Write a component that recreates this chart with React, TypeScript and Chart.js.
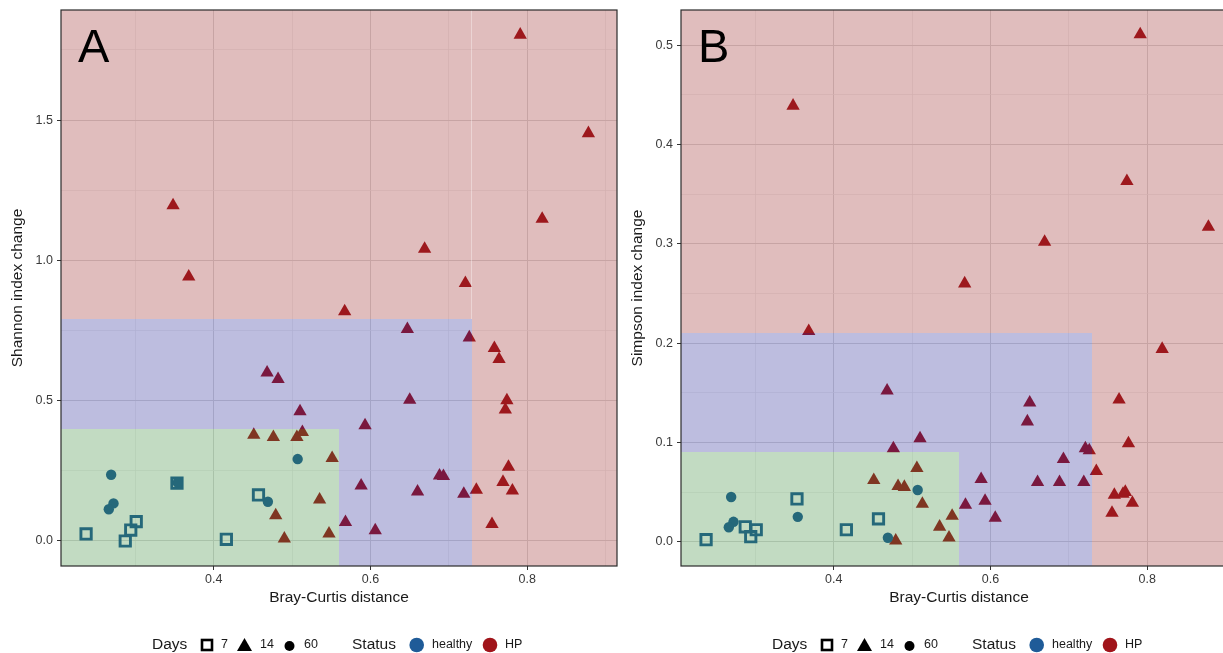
import React, { useEffect, useRef } from "react";
import { Chart, registerables } from "chart.js";

Chart.register(...registerables);

const FONT = '"Liberation Sans", Arial, Helvetica, sans-serif';

// ---------- data ----------
// Day 7 (healthy)
const day7X = [0.237, 0.287, 0.294, 0.301, 0.353, 0.416, 0.457];
const day7Shannon = [0.025, 0.0, 0.039, 0.069, 0.206, 0.006, 0.164];
const day7Simpson = [0.002, 0.015, 0.005, 0.012, 0.043, 0.012, 0.023];

// Day 60 (healthy)
const day60X = [0.269, 0.272, 0.266, 0.354, 0.469, 0.507];
const day60Shannon = [0.236, 0.134, 0.113, 0.208, 0.14, 0.292];
const day60Simpson = [0.045, 0.02, 0.0145, 0.025, 0.004, 0.052];

// Day 14 (HP)
const day14X = [
  0.348, 0.368, 0.451, 0.468, 0.476, 0.479, 0.482, 0.49, 0.506, 0.51, 0.513, 0.535, 0.547, 0.551,
  0.567, 0.568, 0.588, 0.593, 0.606, 0.647, 0.65, 0.66, 0.669, 0.688, 0.693, 0.719, 0.721, 0.726,
  0.735, 0.755, 0.758, 0.764, 0.769, 0.772, 0.774, 0.776, 0.781, 0.791, 0.819, 0.878,
];
const day14Shannon = [
  1.196, 0.942, 0.378, 0.6, 0.37, 0.091, 0.577, 0.008, 0.37, 0.462, 0.388, 0.147, 0.026, 0.295,
  0.818, 0.067, 0.197, 0.412, 0.038, 0.755, 0.503, 0.176, 1.041, 0.233, 0.231, 0.168, 0.919, 0.725,
  0.182, 0.06, 0.687, 0.648, 0.21, 0.468, 0.501, 0.264, 0.179, 1.804, 1.148, 1.453,
];
const day14Simpson = [
  0.439, 0.212, 0.062, 0.152, 0.094, 0.001, 0.056, 0.055, 0.074, 0.104, 0.038, 0.015, 0.004, 0.026,
  0.26, 0.037, 0.063, 0.041, 0.024, 0.121, 0.14, 0.06, 0.302, 0.06, 0.083, 0.06, 0.094, 0.092,
  0.071, 0.029, 0.047, 0.143, 0.048, 0.05, 0.363, 0.099, 0.039, 0.511, 0.194, 0.317,
];

// ticks
const xTicks = [0.3, 0.4, 0.5, 0.6, 0.7, 0.8, 0.9];
const xMajor = [0.4, 0.6, 0.8];
const shannonTicks = [0, 0.25, 0.5, 0.75, 1.0, 1.25, 1.5, 1.75];
const shannonMajor = [0, 0.5, 1.0, 1.5];
const simpsonTicks = [0, 0.05, 0.1, 0.15, 0.2, 0.25, 0.3, 0.35, 0.4, 0.45, 0.5];
const simpsonMajor = [0, 0.1, 0.2, 0.3, 0.4, 0.5];

// axis ranges
const xRange = [0.205, 0.9145];
const shannonRange = [-0.0891, 1.8924];
const simpsonRange = [-0.0245, 0.5355];

// region cut-offs
const xCut = [0.56, 0.73];
const shannonCut = [0.4, 0.79];
const simpsonCut = [0.09, 0.21];

// colours
const HEALTHY = "#1F5B98";
const HP = "#A0141A";
const RED_OVER = "rgba(152,35,35,0.3)";
const BLUE_OVER = "rgba(38,38,148,0.3)";
const GREEN_OVER = "rgba(52,135,52,0.3)";

const near = (arr: number[], v: number) => arr.some((a) => Math.abs(a - v) < 1e-6);

const overlayPanel = {
  id: "overlayPanel",
  afterDatasetsDraw(chart: any, _args: any, opts: any) {
    const { ctx, chartArea: a, scales } = chart;
    const x = scales.x;
    const y = scales.y;
    const px = (v: number) => Math.round(x.getPixelForValue(v));
    const py = (v: number) => Math.round(y.getPixelForValue(v));
    const xg = px(opts.xCut[0]);
    const xb = px(opts.xCut[1]);
    const yg = py(opts.yCut[0]);
    const yb = py(opts.yCut[1]);
    const L = Math.round(a.left), R = Math.round(a.right), T = Math.round(a.top), B = Math.round(a.bottom);
    ctx.save();
    ctx.beginPath();
    ctx.rect(L, T, R - L, B - T);
    ctx.clip();
    ctx.fillStyle = RED_OVER;
    ctx.fillRect(xb, T, R - xb, B - T);
    ctx.fillRect(L, T, xb - L, yb - T);
    ctx.fillStyle = BLUE_OVER;
    ctx.fillRect(xg, yb, xb - xg, B - yb);
    ctx.fillRect(L, yb, xg - L, yg - yb);
    ctx.fillStyle = GREEN_OVER;
    ctx.fillRect(L, yg, xg - L, B - yg);
    if (opts.seam) {
      ctx.fillStyle = "rgba(255,255,255,0.35)";
      ctx.fillRect(xb - 1, T, 1, yb - T);
    }
    ctx.restore();

    ctx.save();
    ctx.strokeStyle = "#2b2b2b";
    ctx.lineWidth = 1.2;
    ctx.strokeRect(L, T, R - L, B - T);

    // panel letter
    ctx.fillStyle = "#000";
    ctx.font = `47px ${FONT}`;
    ctx.textAlign = "left";
    ctx.textBaseline = "alphabetic";
    ctx.fillText(opts.letter, 78, 62);

    // legend
    const cy = 645;
    ctx.textBaseline = "middle";
    ctx.fillStyle = "#1a1a1a";
    ctx.font = `15.5px ${FONT}`;
    ctx.fillText("Days", 152, cy);
    ctx.fillText("Status", 352, cy);
    ctx.font = `12.5px ${FONT}`;
    ctx.fillText("7", 221, cy);
    ctx.fillText("14", 260, cy);
    ctx.fillText("60", 304, cy);
    ctx.fillText("healthy", 432, cy);
    ctx.fillText("HP", 505, cy);
    // square
    ctx.strokeStyle = "#000";
    ctx.lineWidth = 2.6;
    ctx.strokeRect(202, cy - 5, 10, 10);
    // triangle
    ctx.fillStyle = "#000";
    ctx.beginPath();
    ctx.moveTo(244.5, cy - 7);
    ctx.lineTo(252, cy + 6);
    ctx.lineTo(237, cy + 6);
    ctx.closePath();
    ctx.fill();
    // dot
    ctx.beginPath();
    ctx.arc(289.5, cy + 1, 5, 0, Math.PI * 2);
    ctx.fill();
    // status dots
    ctx.fillStyle = HEALTHY;
    ctx.beginPath();
    ctx.arc(416.7, cy, 7.3, 0, Math.PI * 2);
    ctx.fill();
    ctx.fillStyle = HP;
    ctx.beginPath();
    ctx.arc(490, cy, 7.3, 0, Math.PI * 2);
    ctx.fill();
    ctx.restore();
  },
};

type PanelProps = {
  left: number;
  letter: string;
  yTitle: string;
  day7Y: number[];
  day60Y: number[];
  day14Y: number[];
  yTicks: number[];
  yMajor: number[];
  yRange: number[];
  yCut: number[];
  seam: boolean;
};

function Panel(p: PanelProps) {
  const ref = useRef<HTMLCanvasElement | null>(null);
  useEffect(() => {
    if (!ref.current) return;
    const pts = (xs: number[], ys: number[]) => xs.map((x, i) => ({ x, y: ys[i] }));
    const gridFor = (major: number[]) => ({
      color: (c: any) => (c.tick && near(major, c.tick.value) ? "rgb(220,220,220)" : "rgb(236,236,236)"),
      lineWidth: (c: any) => (c.tick && near(major, c.tick.value) ? 1 : 0.7),
      tickColor: (c: any) => (c.tick && near(major, c.tick.value) ? "#333" : "rgba(0,0,0,0)"),
      tickWidth: 1,
      tickLength: 4,
      drawTicks: true,
      drawOnChartArea: true,
    });
    const chart = new Chart(ref.current, {
      type: "scatter",
      data: {
        datasets: [
          {
            label: "60",
            data: pts(day60X, p.day60Y),
            pointStyle: "circle",
            pointRadius: 5.2,
            pointBorderWidth: 0,
            backgroundColor: HEALTHY,
            borderColor: HEALTHY,
          },
          {
            label: "14",
            data: pts(day14X, p.day14Y),
            pointStyle: "triangle",
            pointRadius: 7.7,
            pointBorderWidth: 0,
            backgroundColor: HP,
            borderColor: HP,
          },
          {
            label: "7",
            data: pts(day7X, p.day7Y),
            pointStyle: "rect",
            pointRadius: 7.3,
            pointBorderWidth: 2.9,
            backgroundColor: "rgba(0,0,0,0)",
            borderColor: HEALTHY,
          },
        ],
      },
      options: {
        animation: false,
        responsive: false,
        devicePixelRatio: 1,
        layout: { autoPadding: false, padding: { top: 10, right: 3, left: 0, bottom: 0 } },
        plugins: {
          legend: { display: false },
          tooltip: { enabled: false },
          overlayPanel: { letter: p.letter, xCut, yCut: p.yCut, seam: p.seam },
        } as any,
        scales: {
          x: {
            type: "linear",
            min: xRange[0],
            max: xRange[1],
            afterBuildTicks: (s: any) => {
              s.ticks = xTicks.map((v) => ({ value: v }));
            },
            afterFit: (s: any) => {
              s.height = 87;
              s.paddingLeft = 0;
              s.paddingRight = 0;
            },
            ticks: {
              autoSkip: false,
              maxRotation: 0,
              padding: 2,
              color: "#3a3a3a",
              font: { family: FONT, size: 12.5 },
              callback: (v: any) => (near(xMajor, Number(v)) ? Number(v).toFixed(1) : ""),
            },
            grid: gridFor(xMajor) as any,
            border: { display: false },
            title: {
              display: true,
              text: "Bray-Curtis distance",
              color: "#1a1a1a",
              font: { family: FONT, size: 15.5 },
              padding: { top: 0, bottom: 46 },
            },
          },
          y: {
            type: "linear",
            min: p.yRange[0],
            max: p.yRange[1],
            afterBuildTicks: (s: any) => {
              s.ticks = p.yTicks.map((v) => ({ value: v }));
            },
            afterFit: (s: any) => {
              s.width = 61;
              s.paddingTop = 0;
              s.paddingBottom = 0;
            },
            ticks: {
              autoSkip: false,
              padding: 4,
              color: "#3a3a3a",
              font: { family: FONT, size: 12.5 },
              callback: (v: any) => (near(p.yMajor, Number(v)) ? Number(v).toFixed(1) : ""),
            },
            grid: gridFor(p.yMajor) as any,
            border: { display: false },
            title: {
              display: true,
              text: p.yTitle,
              color: "#1a1a1a",
              font: { family: FONT, size: 15.5 },
              padding: { top: 8.7, bottom: 0 },
            },
          },
        },
      },
      plugins: [overlayPanel],
    } as any);
    return () => chart.destroy();
  }, []);
  return (
    <canvas
      ref={ref}
      width={620}
      height={653}
      style={{ position: "absolute", left: p.left, top: 0, width: 620, height: 653 }}
    />
  );
}

export default function App() {
  return (
    <div
      style={{
        position: "absolute",
        left: 0,
        top: 0,
        width: 1223,
        height: 653,
        overflow: "hidden",
        background: "#fff",
      }}
    >
      <Panel
        left={0}
        letter="A"
        yTitle="Shannon index change"
        day7Y={day7Shannon}
        day60Y={day60Shannon}
        day14Y={day14Shannon}
        yTicks={shannonTicks}
        yMajor={shannonMajor}
        yRange={shannonRange}
        yCut={shannonCut}
        seam={true}
      />
      <Panel
        left={620}
        letter="B"
        yTitle="Simpson index change"
        day7Y={day7Simpson}
        day60Y={day60Simpson}
        day14Y={day14Simpson}
        yTicks={simpsonTicks}
        yMajor={simpsonMajor}
        yRange={simpsonRange}
        yCut={simpsonCut}
        seam={false}
      />
    </div>
  );
}
